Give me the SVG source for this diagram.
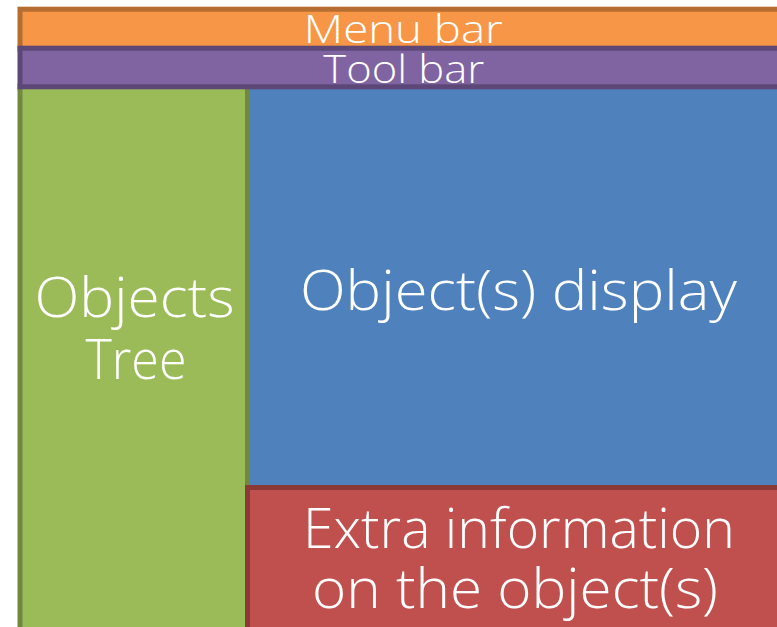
<svg xmlns="http://www.w3.org/2000/svg" width="777" height="627" viewBox="0 0 777 627">
  <style>
    .box { stroke-width: 5; }
    .lbl { fill: #ffffff; font-family: "Open Sans", "DejaVu Sans", "Liberation Sans", sans-serif; font-weight: 300; text-anchor: middle; }
    .big { font-size: 55px; }
    .bar { font-size: 39px; }
  </style>
  <rect width="777" height="627" fill="#ffffff"/>
  <g id="menu-bar">
    <rect class="box" x="20" y="9.2" width="800" height="40" fill="#F79646" stroke="#B66D31"/>
  </g>
  <g id="object-display">
    <rect class="box" x="250" y="86" width="600" height="402" fill="#4F81BD" stroke="#4F81BD"/>
    <text class="lbl big" x="518.4" y="310" textLength="437" lengthAdjust="spacingAndGlyphs">Object(s) display</text>
  </g>
  <g id="objects-tree">
    <rect class="box" x="20" y="86" width="227.5" height="560" fill="#9BBB59" stroke="#71893F"/>
    <text class="lbl big" x="134.5" y="317.3" textLength="200" lengthAdjust="spacingAndGlyphs">Objects</text>
    <text class="lbl big" x="136" y="379.3" textLength="101" lengthAdjust="spacingAndGlyphs">Tree</text>
  </g>
  <g id="extra-info">
    <rect class="box" x="247.5" y="487.5" width="600" height="160" fill="#C0504D" stroke="#8C3836"/>
    <text class="lbl big" x="519" y="548.3" textLength="432" lengthAdjust="spacingAndGlyphs">Extra information</text>
    <text class="lbl big" x="515" y="608.3" textLength="406" lengthAdjust="spacingAndGlyphs">on the object(s)</text>
  </g>
  <g id="menu-bar-label">
    <text class="lbl bar" x="403.3" y="43.3" textLength="199" lengthAdjust="spacingAndGlyphs">Menu bar</text>
  </g>
  <g id="tool-bar">
    <rect class="box" x="20" y="48.2" width="800" height="38.6" fill="#8064A2" stroke="#5C4776"/>
    <text class="lbl bar" x="403.8" y="82.7" textLength="161" lengthAdjust="spacingAndGlyphs">Tool bar</text>
  </g>
  <g id="connectors"/>
</svg>
